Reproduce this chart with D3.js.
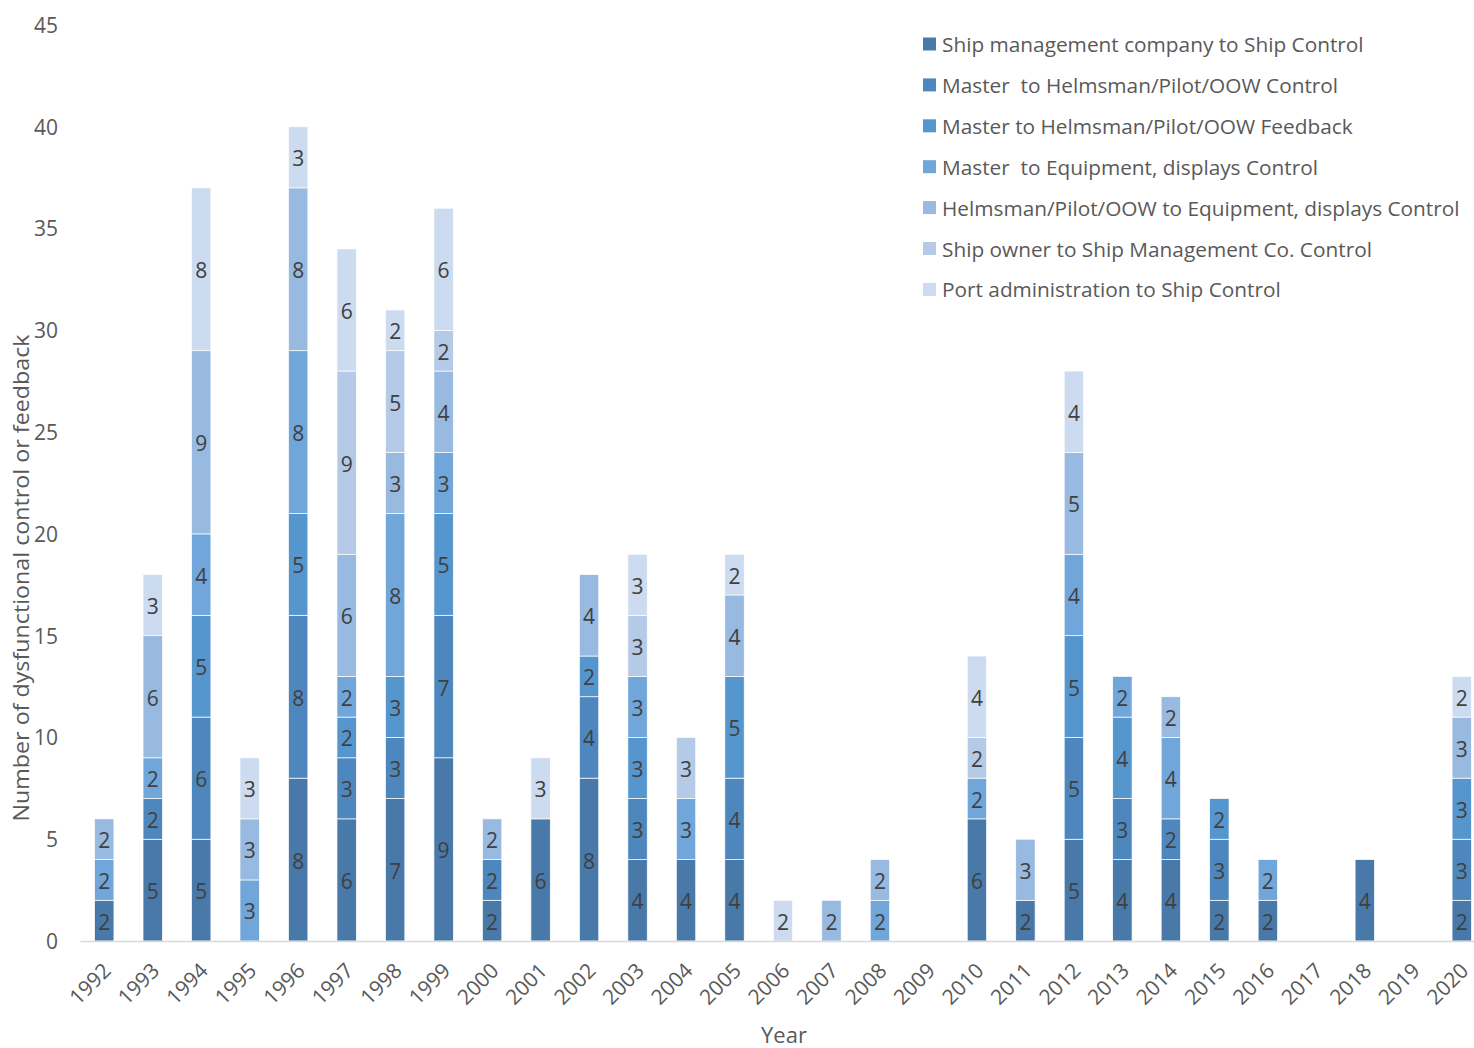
<!DOCTYPE html>
<html>
<head>
<meta charset="utf-8">
<script src="https://cdn.jsdelivr.net/npm/d3@7"></script>
<style>
  html, body { margin: 0; padding: 0; background: #fff; }
  svg { display: block; font-family: "Open Sans", "Noto Sans", sans-serif; }
</style>
</head>
<body>
<svg id="chart" width="1474" height="1048"></svg>
<script>
// ---- data ----
const years = ["1992","1993","1994","1995","1996","1997","1998","1999","2000","2001","2002","2003","2004","2005","2006","2007","2008","2009","2010","2011","2012","2013","2014","2015","2016","2017","2018","2019","2020"];
const seriesNames = [
  "Ship management company to Ship Control",
  "Master  to Helmsman/Pilot/OOW Control",
  "Master to Helmsman/Pilot/OOW Feedback",
  "Master  to Equipment, displays Control",
  "Helmsman/Pilot/OOW to Equipment, displays Control",
  "Ship owner to Ship Management Co. Control",
  "Port administration to Ship Control"
];
const shipMgmtToShip      = [2,5,5,0,8,6,7,9,2,6,8,4,4,4,0,0,0,0,6,2,5,4,4,2,2,0,4,0,2];
const masterToHelmCtrl    = [0,2,6,0,8,3,3,7,2,0,4,3,0,4,0,0,0,0,0,0,5,3,2,3,0,0,0,0,3];
const masterToHelmFeed    = [0,0,5,0,5,2,3,5,0,0,2,3,0,5,0,0,0,0,0,0,5,4,0,2,0,0,0,0,3];
const masterToEquipCtrl   = [2,2,4,3,8,2,8,3,0,0,0,3,3,0,0,0,2,0,2,0,4,2,4,0,2,0,0,0,0];
const helmToEquipCtrl     = [2,6,9,3,8,6,3,4,2,0,4,0,0,4,0,2,2,0,0,3,5,0,2,0,0,0,0,0,3];
const ownerToMgmtCtrl     = [0,0,0,0,0,9,5,2,0,0,0,3,3,0,0,0,0,0,2,0,0,0,0,0,0,0,0,0,0];
const portAdminToShip     = [0,3,8,3,3,6,2,6,0,3,0,3,0,2,2,0,0,0,4,0,4,0,0,0,0,0,0,0,2];
const yTicks = [0,5,10,15,20,25,30,35,40,45];
const colors = ["#4879A9","#4E87BD","#5696CF","#71A6DA","#98B9E0","#B4CAE7","#CCDBEF"];

const seriesValues = [shipMgmtToShip, masterToHelmCtrl, masterToHelmFeed, masterToEquipCtrl, helmToEquipCtrl, ownerToMgmtCtrl, portAdminToShip];
const keys = seriesNames.map((_, i) => "s" + i);
const table = years.map((y, j) => {
  const row = { year: y };
  keys.forEach((k, i) => row[k] = seriesValues[i][j]);
  return row;
});

const svg = d3.select("#chart");
const x = d3.scaleBand().domain(years).range([80, 1486]).paddingInner(0.6).paddingOuter(0.3);
const y = d3.scaleLinear().domain([0, 45]).range([941, 25]);

const stacked = d3.stack().keys(keys)(table);

// bars
const layers = svg.append("g").selectAll("g").data(stacked).join("g")
  .attr("fill", (d, i) => colors[i]);
layers.selectAll("rect").data(d => d.filter(p => p[1] - p[0] > 0)).join("rect")
  .attr("x", d => x(d.data.year))
  .attr("width", x.bandwidth())
  .attr("y", d => y(d[1]))
  .attr("height", d => y(d[0]) - y(d[1]))
  .attr("stroke", "#ffffff")
  .attr("stroke-width", 0.7);

// data labels
layers.selectAll("text").data(d => d.filter(p => p[1] - p[0] > 0)).join("text")
  .attr("x", d => x(d.data.year) + x.bandwidth() / 2)
  .attr("y", d => (y(d[0]) + y(d[1])) / 2 + 1)
  .attr("text-anchor", "middle")
  .attr("dominant-baseline", "central")
  .attr("fill", "#404040")
  .attr("font-size", 21)
  .text(d => d[1] - d[0]);

// x axis
const xAxis = svg.append("g").attr("transform", "translate(0,941)")
  .call(d3.axisBottom(x).tickSize(0).tickPadding(0));
xAxis.select(".domain").attr("d", "M80.5,0.5H1474").attr("stroke", "#D9D9D9").attr("stroke-width", 1.5);
xAxis.selectAll("text")
  .attr("font-family", "'Open Sans', sans-serif")
  .attr("font-size", 21)
  .attr("fill", "#595959")
  .attr("text-anchor", "end")
  .attr("dy", null)
  .attr("y", 0)
  .attr("transform", "translate(8,31) rotate(-45)");

// y axis
const yAxis = svg.append("g").attr("transform", "translate(58,0)")
  .call(d3.axisLeft(y).tickValues(yTicks).tickSize(0).tickPadding(0));
yAxis.select(".domain").remove();
yAxis.selectAll("text")
  .attr("font-family", "'Open Sans', sans-serif")
  .attr("font-size", 21)
  .attr("fill", "#595959")
  .attr("dy", "0.35em");

// axis titles
svg.append("text")
  .attr("transform", "translate(29,578) rotate(-90)")
  .attr("text-anchor", "middle")
  .attr("font-size", 22)
  .attr("fill", "#595959")
  .attr("textLength", 487)
  .attr("lengthAdjust", "spacingAndGlyphs")
  .text("Number of dysfunctional control or feedback");

svg.append("text")
  .attr("x", 784).attr("y", 1043)
  .attr("text-anchor", "middle")
  .attr("font-size", 22)
  .attr("fill", "#595959")
  .text("Year");

// legend
const legend = svg.append("g").selectAll("g").data(seriesNames).join("g")
  .attr("transform", (d, i) => `translate(923,${44 + i * 40.9})`);
legend.append("rect")
  .attr("x", 0).attr("y", -6.5).attr("width", 13).attr("height", 13)
  .attr("fill", (d, i) => colors[i]);
legend.append("text")
  .attr("x", 19).attr("y", 0)
  .attr("dominant-baseline", "central")
  .attr("font-size", 20.8)
  .attr("fill", "#595959")
  .attr("xml:space", "preserve")
  .style("white-space", "pre")
  .text(d => d);
</script>
</body>
</html>
